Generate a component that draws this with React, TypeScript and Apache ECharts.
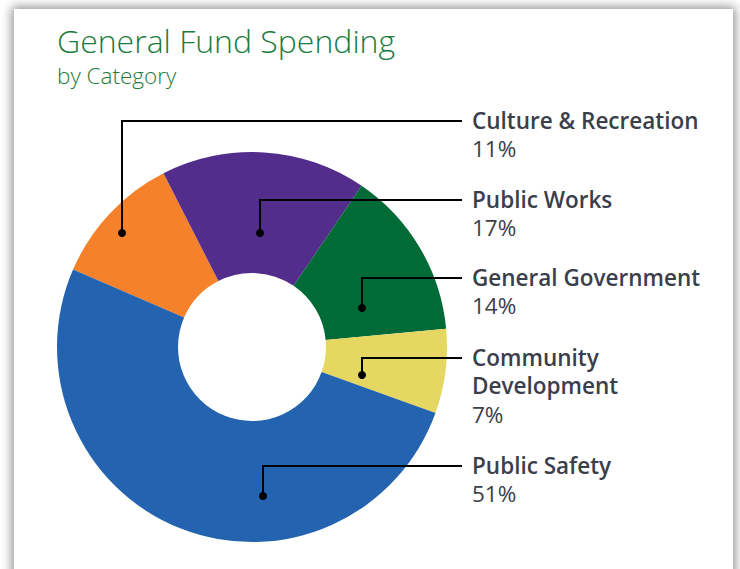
import React, { useEffect, useRef } from "react";
import * as echarts from "echarts";

const categories = ["Culture & Recreation", "Public Works", "General Government", "Community Development", "Public Safety"];
const labelNames = ["Culture & Recreation", "Public Works", "General Government", "Community\nDevelopment", "Public Safety"];
const shares = [11, 17, 14, 7, 51];
const colors = ["#F5822A", "#532D8C", "#006B37", "#E5D761", "#2363AF"];

// annotation anchors (dot inside slice) and leader line heights
const dotPoints = [[122, 233], [260, 233], [362, 308], [362, 375], [263, 496]];
const lineYs = [121, 200, 278, 358, 466];
const lineEndX = 462;

const FONT = "'Open Sans', sans-serif";
const TEXT = "#3B3E4B";

export default function App() {
  const ref = useRef<HTMLDivElement>(null);
  useEffect(() => {
    if (!ref.current) return;
    const chart = echarts.init(ref.current, undefined, { renderer: "svg" });
    const leaders: any[] = [];
    dotPoints.forEach((d, i) => {
      leaders.push({
        type: "polyline",
        shape: { points: [[d[0], d[1]], [d[0], lineYs[i]], [lineEndX, lineYs[i]]] },
        style: { stroke: "#000", lineWidth: 2, fill: "none" },
        z: 100,
      });
      leaders.push({
        type: "circle",
        shape: { cx: d[0], cy: d[1], r: 4 },
        style: { fill: "#000" },
        z: 101,
      });
    });
    chart.setOption({
      animation: false,
      backgroundColor: "transparent",
      title: {
        text: "General Fund Spending",
        subtext: "by Category",
        left: 52,
        top: 19,
        itemGap: 8,
        textStyle: { fontFamily: FONT, fontWeight: 300, fontSize: 32, color: "#1B7B3D", lineHeight: 32 },
        subtextStyle: { fontFamily: FONT, fontWeight: 300, fontSize: 22.5, color: "#1B7B3D", lineHeight: 22 },
      },
      graphic: leaders,
      series: [
        {
          type: "pie",
          center: [252, 347],
          radius: [74, 195],
          startAngle: 156.6,
          clockwise: true,
          data: categories.map((c, i) => ({
            name: c,
            value: shares[i],
            itemStyle: { color: colors[i] },
            label: {
              formatter: `{n|${labelNames[i]}}\n{p|${shares[i]}%}`,
            },
          })),
          label: {
            show: true,
            position: "outside",
            overflow: "none",
            lineHeight: 28.5,
            rich: {
              n: { fontFamily: FONT, fontWeight: 600, fontSize: 22.5, color: TEXT, lineHeight: 28.5 },
              p: { fontFamily: FONT, fontWeight: 400, fontSize: 22.5, color: TEXT, lineHeight: 28.5 },
            },
          },
          labelLine: { show: false },
          labelLayout: (params: any) => {
            const i = params.dataIndex;
            return {
              x: 472,
              y: lineYs[i] - 15,
              align: "left",
              verticalAlign: "top",
            };
          },
        },
      ],
    });
    return () => chart.dispose();
  }, []);
  return (
    <div style={{ position: "absolute", left: 0, top: 0, width: 740, height: 569, background: "#fff", overflow: "hidden" }}>
      <div
        style={{
          position: "absolute",
          left: 14,
          top: 9,
          width: 719,
          height: 620,
          background: "#fff",
          boxShadow: "0 0 10px 2px rgba(0,0,0,0.45)",
        }}
      />
      <div ref={ref} style={{ position: "absolute", left: 0, top: 0, width: 740, height: 569 }} />
    </div>
  );
}
